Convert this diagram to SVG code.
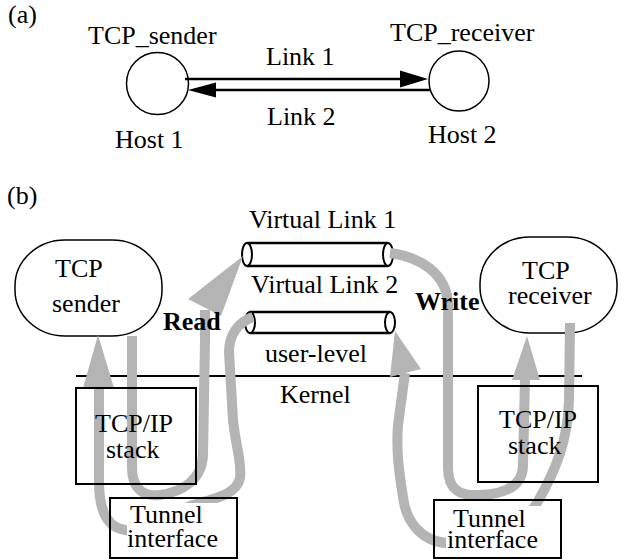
<svg xmlns="http://www.w3.org/2000/svg" width="621" height="560" viewBox="0 0 621 560" font-family="'Liberation Serif', 'Times New Roman', Tinos, 'DejaVu Serif', serif">
<style>
text{font-family:'Liberation Serif','Times New Roman',Tinos,'DejaVu Serif',serif;font-size:26px;fill:#000}
.b{font-weight:bold}
.thin{fill:none;stroke:#000;stroke-width:1.5}
.box{fill:none;stroke:#000;stroke-width:2}
.link{stroke:#000;stroke-width:2.5;fill:none}
.band{fill:none;stroke:#b4b4b4;stroke-width:10}
.head{fill:#b4b4b4}
.tube{fill:#fff;stroke:#000;stroke-width:2}
</style>
<rect width="621" height="560" fill="#fff"/>
<text x="8" y="23">(a)</text>
<g id="host1">
<ellipse cx="157.5" cy="83.5" rx="31" ry="31" class="thin"/>
<text x="88" y="44">TCP_sender</text>
<text x="115" y="148">Host 1</text>
</g>
<g id="host2">
<ellipse cx="459" cy="81" rx="30" ry="30" class="thin"/>
<text x="390" y="41">TCP_receiver</text>
<text x="428" y="143">Host 2</text>
</g>
<g id="links-a">
<line x1="185" y1="79" x2="402" y2="79" class="link"/>
<polygon points="400,70.5 428,79 400,87.5" fill="#000"/>
<line x1="430" y1="90" x2="214" y2="90" class="link"/>
<polygon points="216,82.5 188,90 216,97.5" fill="#000"/>
<text x="266" y="65">Link 1</text>
<text x="267" y="125">Link 2</text>
</g>
<text x="7" y="204">(b)</text>
<g id="sender">
<rect x="15" y="240" width="147" height="96" rx="50" ry="46" class="thin" fill="#fff"/>
<text x="55" y="277">TCP</text>
<text x="52" y="312">sender</text>
</g>
<g id="receiver">
<rect x="480" y="237" width="137" height="96" rx="50" ry="46" class="thin" fill="#fff"/>
<text x="522" y="279">TCP</text>
<text x="508" y="304">receiver</text>
</g>
<g id="vlink1">
<text x="249" y="228">Virtual Link 1</text>
<line x1="247" y1="243" x2="388" y2="243" class="link" stroke-width="2"/>
<line x1="247" y1="266" x2="388" y2="266" class="link" stroke-width="2"/>
<ellipse cx="247" cy="254.5" rx="5" ry="11.5" class="tube"/>
<ellipse cx="388" cy="254.5" rx="5" ry="11.5" class="tube"/>
</g>
<g id="vlink2">
<text x="251" y="293">Virtual Link 2</text>
<line x1="250" y1="312" x2="390" y2="312" class="link" stroke-width="2"/>
<line x1="250" y1="333" x2="390" y2="333" class="link" stroke-width="2"/>
<ellipse cx="250" cy="322.5" rx="5" ry="10.5" class="tube"/>
<ellipse cx="390" cy="322.5" rx="5" ry="10.5" class="tube"/>
</g>
<g id="boundary">
<line x1="76" y1="376" x2="582" y2="376" stroke="#000" stroke-width="1.8"/>
<text x="265" y="362">user-level</text>
<text x="280" y="403">Kernel</text>
</g>
<g id="connectors">
<path class="band" d="M132,336 L132,468 C132,490 145,497 160,495 C182,492 202,480 203,455 L205,340 L205,310"/>
<polygon class="head" points="243,256 188,299 221,316"/>
<path class="band" d="M253,317 C238,322 229,335 229,352 L233,420 C236,448 242,462 240,478 C237,494 215,499 196,504 C168,512 148,533 125,530 C105,527 99,507 99,482 L99,386"/>
<polygon class="head" points="98,335 83,388 114,388"/>
<path class="band" d="M390,253 C420,257 447,273 448,305 L448,468 C448,490 460,496 480,495 C505,494 523,486 523,465 L525,378"/>
<polygon class="head" points="527,336 512,380 540,380"/>
<path class="band" d="M570,323 L569,400 C568,440 556,470 537,503 C518,535 472,546 445,543 C420,540 406,521 403,497 C399,472 396,450 398,425 L405,373"/>
<polygon class="head" points="395,331 390,377 421,369"/>
<text class="b" x="163" y="330">Read</text>
<text class="b" x="415" y="310">Write</text>
</g>
<g id="stack-left">
<rect x="76" y="388" width="120" height="96" class="box"/>
<text x="95" y="432">TCP/IP</text>
<text x="106" y="458">stack</text>
</g>
<g id="tunnel-left">
<rect x="127" y="503" width="92" height="49" fill="#fff"/>
<rect x="110" y="498" width="127" height="60" class="box"/>
<text x="130" y="523">Tunnel</text>
<text x="127" y="547">interface</text>
</g>
<g id="stack-right">
<rect x="478" y="386" width="120" height="96" class="box"/>
<text x="499" y="428">TCP/IP</text>
<text x="508" y="454">stack</text>
</g>
<g id="tunnel-right">
<rect x="446" y="506" width="97" height="47" fill="#fff"/>
<rect x="434" y="500" width="127" height="58" class="box"/>
<text x="453" y="527">Tunnel</text>
<text x="447" y="548">interface</text>
</g>
</svg>
